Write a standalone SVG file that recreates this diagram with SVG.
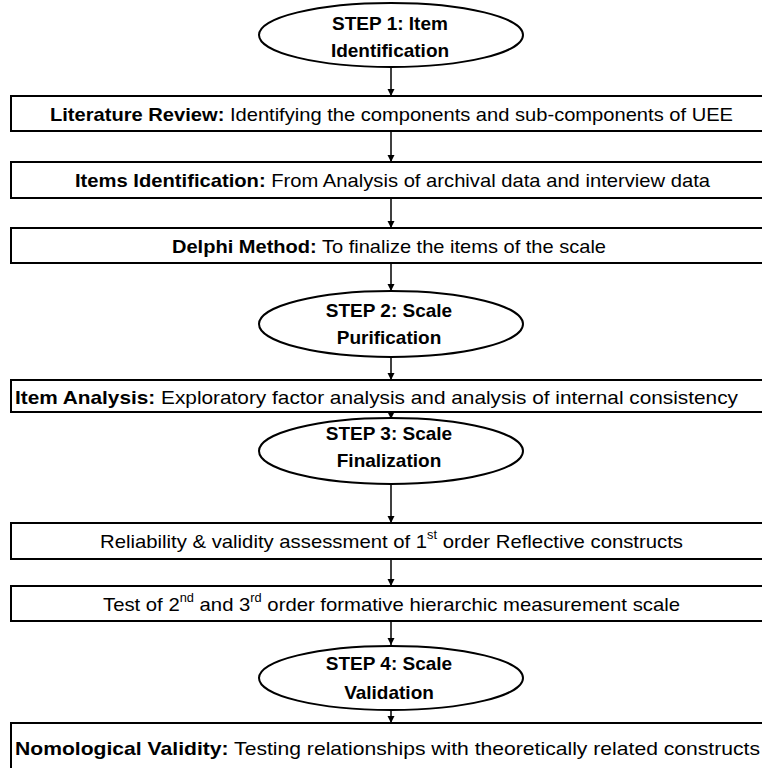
<svg xmlns="http://www.w3.org/2000/svg" width="762" height="768" viewBox="0 0 762 768">
<style>
.box{fill:#fff;stroke:#000;stroke-width:2}
.ell{fill:#fff;stroke:#000;stroke-width:2}
.t{font-family:"Liberation Sans",Arial,sans-serif;font-size:19px;fill:#000;dominant-baseline:central}
.h{font-family:"Liberation Sans",Arial,sans-serif;font-size:19px;font-weight:bold;fill:#000;text-anchor:middle;dominant-baseline:central}
.b{font-weight:bold}
.c{stroke:#000;stroke-width:1.5;fill:none}
</style>
<defs>
<marker id="ah" viewBox="0 0 10 10" refX="10" refY="5" markerWidth="7" markerHeight="8" markerUnits="userSpaceOnUse" orient="auto">
<path d="M0,0 L10,5 L0,10 z" fill="#000"/>
</marker>
</defs>
<rect width="762" height="768" fill="#fff"/>
<g id="connectors">
<line class="c" x1="391" y1="67" x2="391" y2="96" marker-end="url(#ah)"/>
<line class="c" x1="391" y1="131" x2="391" y2="162" marker-end="url(#ah)"/>
<line class="c" x1="391" y1="198" x2="391" y2="228" marker-end="url(#ah)"/>
<line class="c" x1="391" y1="263" x2="391" y2="291" marker-end="url(#ah)"/>
<line class="c" x1="391" y1="357" x2="391" y2="380" marker-end="url(#ah)"/>
<line class="c" x1="391" y1="412" x2="391" y2="419" marker-end="url(#ah)"/>
<line class="c" x1="391" y1="484" x2="391" y2="523" marker-end="url(#ah)"/>
<line class="c" x1="391" y1="559" x2="391" y2="586" marker-end="url(#ah)"/>
<line class="c" x1="391" y1="621" x2="391" y2="645" marker-end="url(#ah)"/>
<line class="c" x1="391" y1="710" x2="391" y2="723" marker-end="url(#ah)"/>
</g>
<g id="step1">
<ellipse class="ell" cx="391" cy="35" rx="132" ry="32"/>
<text class="h" x="390" y="23">STEP 1: Item</text>
<text class="h" x="390" y="50">Identification</text>
</g>
<g id="literature-review">
<rect class="box" x="11" y="96" width="760" height="35"/>
<text class="t" x="50" y="114" textLength="683" lengthAdjust="spacingAndGlyphs"><tspan class="b">Literature Review:</tspan> Identifying the components and sub-components of UEE</text>
</g>
<g id="items-identification">
<rect class="box" x="11" y="162" width="760" height="36"/>
<text class="t" x="75" y="180" textLength="635" lengthAdjust="spacingAndGlyphs"><tspan class="b">Items Identification:</tspan> From Analysis of archival data and interview data</text>
</g>
<g id="delphi-method">
<rect class="box" x="11" y="228" width="760" height="35"/>
<text class="t" x="172" y="246" textLength="434" lengthAdjust="spacingAndGlyphs"><tspan class="b">Delphi Method:</tspan> To finalize the items of the scale</text>
</g>
<g id="step2">
<ellipse class="ell" cx="391" cy="324" rx="132" ry="33"/>
<text class="h" x="389" y="310">STEP 2: Scale</text>
<text class="h" x="389" y="337">Purification</text>
</g>
<g id="item-analysis">
<rect class="box" x="11" y="380" width="760" height="32"/>
<text class="t" x="15" y="397" textLength="723" lengthAdjust="spacingAndGlyphs"><tspan class="b">Item Analysis:</tspan> Exploratory factor analysis and analysis of internal consistency</text>
</g>
<g id="step3">
<ellipse class="ell" cx="391" cy="451" rx="132" ry="33"/>
<text class="h" x="389" y="433">STEP 3: Scale</text>
<text class="h" x="389" y="460">Finalization</text>
</g>
<g id="reliability">
<rect class="box" x="11" y="523" width="760" height="36"/>
<text class="t" x="100" y="541" textLength="583" lengthAdjust="spacingAndGlyphs">Reliability &amp; validity assessment of 1<tspan font-size="12" dy="-6">st</tspan><tspan dy="6"> order Reflective constructs</tspan></text>
</g>
<g id="test-order">
<rect class="box" x="11" y="586" width="760" height="35"/>
<text class="t" x="103" y="604" textLength="577" lengthAdjust="spacingAndGlyphs">Test of 2<tspan font-size="12" dy="-6">nd</tspan><tspan dy="6"> and 3</tspan><tspan font-size="12" dy="-6">rd</tspan><tspan dy="6"> order formative hierarchic measurement scale</tspan></text>
</g>
<g id="step4">
<ellipse class="ell" cx="391" cy="678" rx="132" ry="32"/>
<text class="h" x="389" y="663">STEP 4: Scale</text>
<text class="h" x="389" y="692">Validation</text>
</g>
<g id="nomological-validity">
<rect class="box" x="11" y="723" width="760" height="60"/>
<text class="t" x="15" y="748" textLength="745" lengthAdjust="spacingAndGlyphs"><tspan class="b">Nomological Validity:</tspan> Testing relationships with theoretically related constructs</text>
</g>
</svg>
